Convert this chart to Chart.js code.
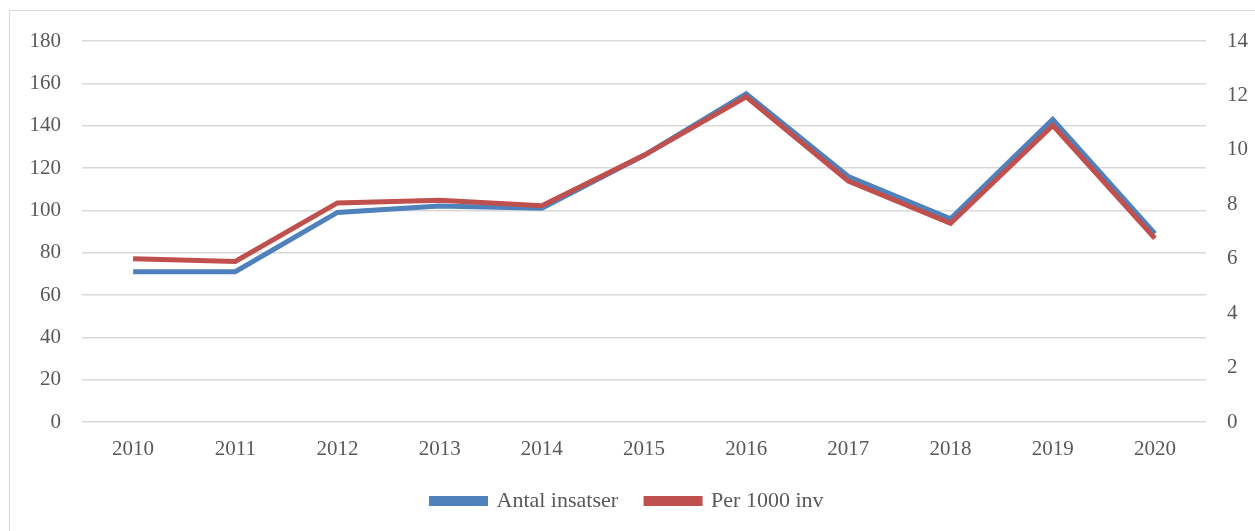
<!DOCTYPE html>
<html>
<head>
<meta charset="utf-8">
<script src="https://cdn.jsdelivr.net/npm/chart.js@4/dist/chart.umd.min.js"></script>
<style>
  html, body { margin: 0; padding: 0; background: #fff; overflow: hidden; }
  #wrap { position: relative; width: 1255px; height: 531px; }
  #frame { position: absolute; left: 9px; top: 10px; width: 1260px; height: 540px; border: 1.5px solid #d9d9d9; box-sizing: border-box; }
  canvas { position: absolute; left: 0; top: 0; }
</style>
</head>
<body>
<div id="wrap">
  <div id="frame"></div>
  <canvas id="grafico" width="1255" height="531"></canvas>
</div>
<script>
// data
const years = ['2010', '2011', '2012', '2013', '2014', '2015', '2016', '2017', '2018', '2019', '2020'];
const antalInsatser = [71, 71, 99, 102, 101, 126, 155, 116, 96, 143, 89];
const per1000 = [6.0, 5.9, 8.05, 8.15, 7.95, 9.8, 11.95, 8.85, 7.3, 10.9, 6.75];

const textColor = '#595959';
const gridColor = '#d9d9d9';
Chart.defaults.font.family = '"Liberation Serif", "DejaVu Serif", serif';
Chart.defaults.font.size = 21;
Chart.defaults.color = textColor;

const ctx = document.getElementById('grafico').getContext('2d');
const grafico = new Chart(ctx, {
    type: 'line',
    data: {
        labels: years,
        datasets: [{
            label: 'Antal insatser',
            data: antalInsatser,
            borderColor: '#4f81bd',
            backgroundColor: '#4f81bd',
            borderWidth: 5,
            pointRadius: 0,
            tension: 0,
            yAxisID: 'y',
            order: 1
        }, {
            label: 'Per 1000 inv',
            data: per1000,
            borderColor: '#c0504d',
            backgroundColor: '#c0504d',
            borderWidth: 5,
            pointRadius: 0,
            tension: 0,
            yAxisID: 'y1',
            order: 0
        }]
    },
    options: {
        responsive: false,
        animation: false,
        layout: { padding: { top: 41, bottom: 9, left: 0, right: 0 } },
        scales: {
            x: {
                offset: true,
                grid: { display: false },
                border: { display: false },
                ticks: { padding: 7 },
                afterFit: (s) => { s.height = 40; }
            },
            y: {
                position: 'left',
                min: 0, max: 180,
                ticks: { stepSize: 20, padding: 21 },
                grid: { color: gridColor, lineWidth: 1.5, drawTicks: false },
                border: { display: false },
                afterFit: (s) => { s.width = 82; }
            },
            y1: {
                position: 'right',
                min: 0, max: 14,
                ticks: { stepSize: 2, padding: 21 },
                grid: { display: false, drawTicks: false },
                border: { display: false },
                afterFit: (s) => { s.width = 49; }
            }
        },
        plugins: {
            legend: {
                position: 'bottom',
                labels: {
                    boxWidth: 54,
                    boxHeight: 5,
                    padding: 28,
                    font: { size: 22 },
                    sort: (a, b) => a.datasetIndex - b.datasetIndex
                }
            },
            tooltip: { enabled: false }
        }
    }
});
</script>
</body>
</html>
